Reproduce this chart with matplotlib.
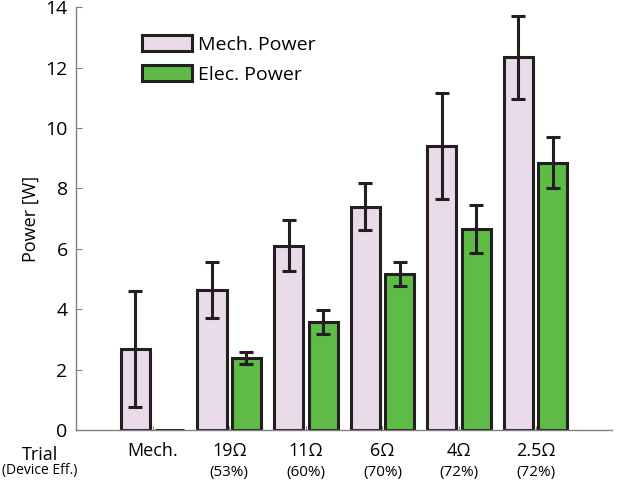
import numpy as np
import matplotlib.pyplot as plt

plt.rcParams.update({
    "font.family": ["Open Sans", "DejaVu Sans"],
    "font.size": 14,
})

trials = ["Mech.", "19\u03a9", "11\u03a9", "6\u03a9", "4\u03a9", "2.5\u03a9"]
effs = ["", "(53%)", "(60%)", "(70%)", "(72%)", "(72%)"]
mech_power = [2.68, 4.64, 6.10, 7.39, 9.40, 12.34]
mech_err = [1.91, 0.93, 0.85, 0.78, 1.75, 1.37]
elec_power = [0.0, 2.39, 3.57, 5.17, 6.66, 8.85]
elec_err = [0.0, 0.20, 0.39, 0.40, 0.80, 0.85]

x = np.arange(1, len(trials) + 1)
w = 0.38
off = 0.225
edge = '#231f20'
axcol = '#808080'

fig = plt.figure(figsize=(6.28, 4.82), dpi=100)
ax = fig.add_axes([0.121, 0.108, 0.854, 0.877])

ax.bar(x - off, mech_power, w, color='#e9dbe9', edgecolor=edge, linewidth=2.2,
       label='Mech. Power', zorder=2)
ax.bar(x + off, elec_power, w, color='#5dbb46', edgecolor=edge, linewidth=2.2,
       label='Elec. Power', zorder=2)
ax.errorbar(x - off, mech_power, yerr=mech_err, fmt='none', ecolor=edge,
            elinewidth=2.2, capsize=5, capthick=2.2, zorder=3)
ax.errorbar(x[1:] + off, elec_power[1:], yerr=elec_err[1:], fmt='none', ecolor=edge,
            elinewidth=2.2, capsize=5, capthick=2.2, zorder=3)

ax.set_xlim(0, 7)
ax.set_ylim(0, 14)
ax.set_yticks(range(0, 15, 2))
ax.set_xticks(x)
ax.set_xticklabels(trials, fontsize=13)
ax.set_ylabel("Power [W]", fontsize=13)

for s in ['top', 'right']:
    ax.spines[s].set_visible(False)
for s in ['left', 'bottom']:
    ax.spines[s].set_color(axcol)
    ax.spines[s].set_linewidth(1.0)
ax.tick_params(axis='y', direction='in', length=4, color=axcol, pad=6)
ax.tick_params(axis='x', direction='in', length=3, color=axcol, pad=9)

tr = ax.get_xaxis_transform()
for xi, e in zip(x, effs):
    ax.text(xi, -0.1, e, transform=tr, ha='center', va='center', fontsize=11)
fig.text(0.064, 0.056, "Trial", ha='center', va='center', fontsize=13)
fig.text(0.003, 0.024, "(Device Eff.)", ha='left', va='center', fontsize=10)

ax.legend(loc='upper left', bbox_to_anchor=(0.09, 0.975), frameon=False,
          fontsize=14, handlelength=2.6, handleheight=0.9, handletextpad=0.3,
          labelspacing=0.55)

fig.savefig("out.png", dpi=100)
